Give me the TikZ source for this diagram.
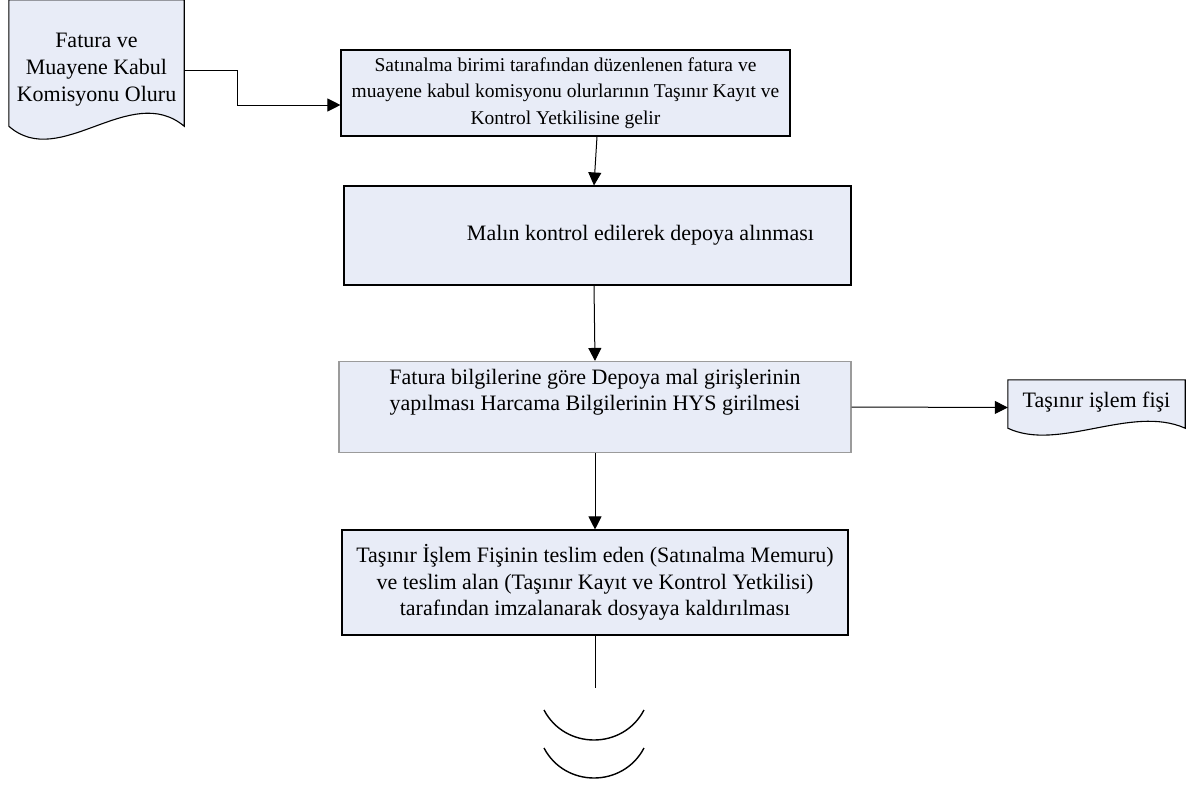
\documentclass[tikz,border=0pt]{standalone}
\usepackage{fontspec}
\setmainfont{Liberation Serif}
\usepackage{xcolor}
\usepackage{tikz}
\usetikzlibrary{arrows.meta,backgrounds}
\definecolor{boxfill}{RGB}{232,236,247}
\tikzset{
  box/.style={draw=black,line width=1.1pt,fill=boxfill,align=center,inner sep=0pt,font=\fontsize{22}{26.5}\selectfont},
  docbox/.style={align=center,inner sep=0pt,font=\fontsize{22}{27}\selectfont},
  docline/.style={draw=black,line width=1.1pt,fill=boxfill},
  arr/.style={line width=1pt,-{Triangle[length=13pt,width=13pt]}}
}

\begin{document}
\begin{tikzpicture}[x=1pt,y=-1pt]
\useasboundingbox (0,0) rectangle (1197,787);

\node[docbox,minimum width=175pt,minimum height=140pt] (fatura) at (96.5,70) {Fatura ve\\ Muayene Kabul\\ Komisyonu Oluru};
\node[box,minimum width=449pt,minimum height=86pt,font=\fontsize{19.5}{26.5}\selectfont] (box1) at (565.5,93)
  {Satınalma birimi tarafından düzenlenen fatura ve\\ muayene kabul komisyonu olurlarının Taşınır Kayıt ve\\ Kontrol Yetkilisine gelir};
\node[box,minimum width=507pt,minimum height=99pt] (box2) at (597.5,235.5) {\hspace*{86pt}Malın kontrol edilerek depoya alınması};
\node[box,draw={rgb,255:red,155;green,155;blue,155},minimum width=512pt,minimum height=91pt] (box3) at (595,407)
  {Fatura bilgilerine göre Depoya mal girişlerinin\\ yapılması Harcama Bilgilerinin HYS girilmesi\\ \strut};
\node[docbox,minimum width=177pt,minimum height=55pt,text height=15pt,text depth=15pt] (fis) at (1096.5,407.5) {Taşınır işlem fişi};
\node[box,minimum width=506pt,minimum height=105pt] (box4) at (595,582.5)
  {Taşınır İşlem Fişinin teslim eden (Satınalma Memuru)\\ ve teslim alan (Taşınır Kayıt ve Kontrol Yetkilisi)\\ tarafından imzalanarak dosyaya kaldırılması};
\coordinate (son) at (595,688);

\begin{scope}[on background layer]
\draw[docline] (fatura.north west) -- (fatura.north east) -- ([yshift=14pt]fatura.south east)
  .. controls +(-54,-45) and +(51,45) .. ([yshift=14pt]fatura.south west) -- cycle;
\draw[docline] (fis.north west) -- (fis.north east) -- ([yshift=7pt]fis.south east)
  .. controls +(-54,-24) and +(51,24) .. ([yshift=7pt]fis.south west) -- cycle;
\end{scope}

\draw[arr] (fatura.east) -- ++(53,0) |- ([yshift=-12pt]box1.west);
\draw[arr] ([xshift=31.5pt]box1.south) -- ([xshift=-3.5pt]box2.north);
\draw[arr] ([xshift=-3.5pt]box2.south) -- (box3.north);
\draw[arr] (box3.east) -- (fis.west);
\draw[arr] (box3.south) -- (box4.north);
\draw[line width=1pt] (box4.south) -- (son);

\draw[line width=1.4pt] (544,710) .. controls (565,750) and (623,750) .. (644,710);
\draw[line width=1.4pt] (544,748) .. controls (565,788) and (623,788) .. (644,748);
\end{tikzpicture}
\end{document}
